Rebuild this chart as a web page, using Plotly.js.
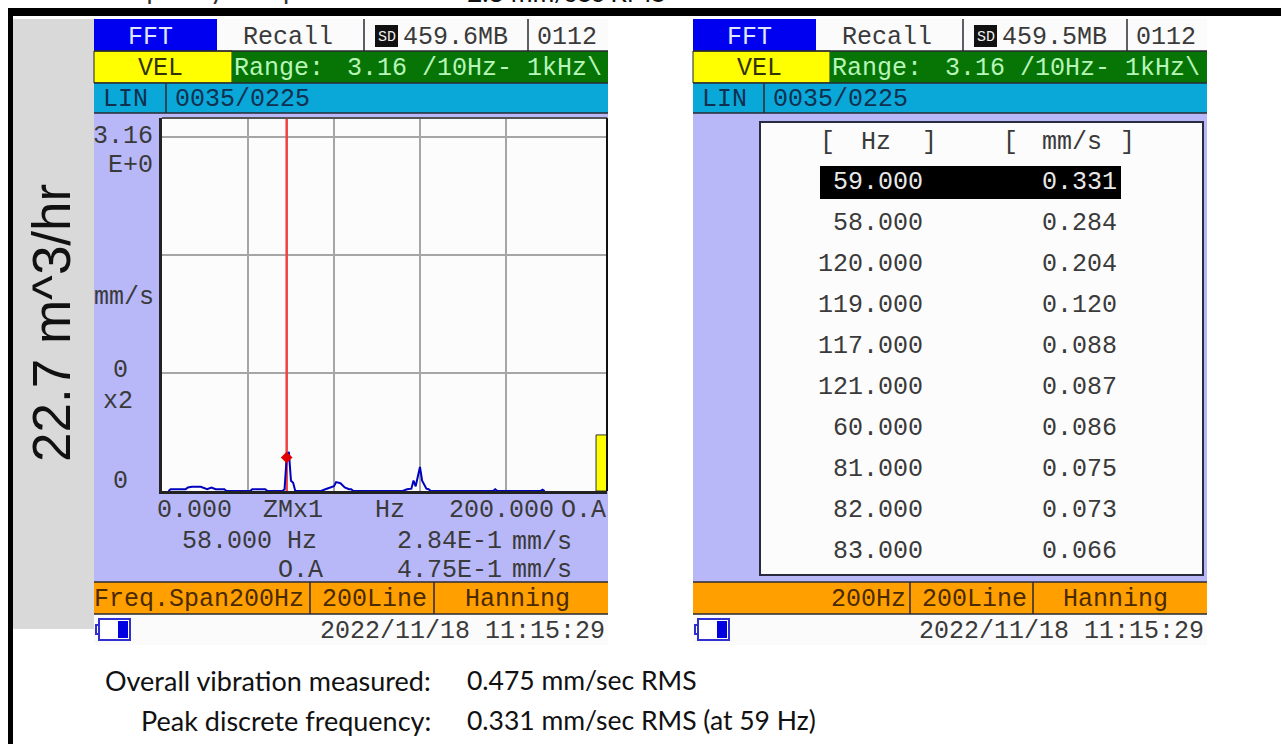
<!DOCTYPE html>
<html>
<head>
<meta charset="utf-8">
<script src="https://cdn.plot.ly/plotly-3.0.1.min.js"></script>
<style>html,body{margin:0;padding:0;background:#fff;overflow:hidden}#chart{width:1281px;height:744px}</style>
</head>
<body>
<div id="chart"></div>
<script>
// ---- data ----
const spectrumHz = [3,4,8,11,12,14,18,20,21,23,25,27,29,30,41,42,45,48,49,56,57,58,59,60,61,62,63,
  74,76,78,80,81,82,83,85,87,88,89,112,114,116,117,118,119,120,121,122,123,124,125,154,155,156,176,177,178];
const spectrumMms = [0,0.015,0.015,0.015,0.03,0.035,0.035,0.02,0.015,0.03,0.015,0.015,0.015,0,0,0.015,0.015,0.015,0,0,0.015,0.284,0.331,0.086,0.07,0,0,
  0,0.015,0.03,0.04,0.075,0.073,0.066,0.03,0.015,0.015,0,0,0.015,0.02,0.088,0.04,0.12,0.204,0.087,0.05,0.02,0.015,0,0,0.015,0,0,0.012,0];
const cursorHz = [58];
const cursorMms = [0.284];
const overallLabelHz = [204.45];
const overallMms = [0.475];
const gridHz = [40,80,120,160];
const gridMms = [1,2,3];
const tableHz = ['59.000','58.000','120.000','119.000','117.000','121.000','60.000','81.000','82.000','83.000'];
const tableMms = ['0.331','0.284','0.204','0.120','0.088','0.087','0.086','0.075','0.073','0.066'];

// ---- page helpers (pixel -> paper) ----
const W = 1281, H = 744;
const px = x => x / W, py = y => 1 - y / H;
const shapes = [], annotations = [];
function box(x0, y0, x1, y1, fill, line, lw) {
  shapes.push({type:'rect', xref:'paper', yref:'paper', layer:'below',
    x0:px(x0), x1:px(x1), y0:py(y1), y1:py(y0), fillcolor:fill,
    line:{color:line||'rgba(0,0,0,0)', width:line?(lw||1):0}});
}
function rule(x0, y0, x1, y1, color, w, layer) {
  shapes.push({type:'line', xref:'paper', yref:'paper', layer:layer||'below',
    x0:px(x0), x1:px(x1), y0:py(y0), y1:py(y1), line:{color:color, width:w}});
}
const MONO = '"Liberation Mono", monospace';
function txt(x, y, text, color, opt) {
  opt = opt || {};
  const mono = !opt.family;
  annotations.push({xref:'paper', yref:'paper',
    x:px(mono && !opt.anchor ? x - 1 : x), y:py(mono ? y + 1.5 : y), text:text, showarrow:false,
    xanchor:opt.anchor||'left', yanchor:'middle', borderpad:0, textangle:opt.angle||0,
    font:{family:opt.family||MONO, size:opt.size||25, color:color||'#3a3a3a'}});
}

// ---- slide frame ----
box(8, 8, W, 16, '#000');
box(8, 8, 13, H, '#000');
box(13, 19, 94, 629, '#d9d9d9');
txt(52, 323, '22.7 m^3/hr', '#111', {family:'"Liberation Sans", sans-serif', size:53, anchor:'center', angle:-90});

// ---- instrument screen chrome ----
function screen(o, mb, sp, seps) {
  const L = o, R = o + 514;
  box(L, 19, R, 645, '#fbfbfb');
  box(L, 19, L + 123, 51, '#0000f0');
  box(L, 51, L + sp.yel, 83, '#ffff00', '#222', 1);
  box(L + sp.yel, 51, R, 83, '#067506');
  box(L, 83, R, 113, '#0aa8d8');
  box(L, 113, R, 582, '#b8b8f8');
  box(L, 582, R, 614, '#ff9f00');
  [[L,83,R,83],[L,113,R,113],[L,582,R,582],[L,614,R,614],[L,51,R,51],
   [L+sp.lin,83,L+sp.lin,113],[L+270,19,L+270,51],[L+434,19,L+434,51],
   [L+seps[0],582,L+seps[0],614],[L+seps[1],582,L+seps[1],614]].forEach(s => rule(s[0], s[1], s[2], s[3], '#2a2a33', 1.5));
  // SD badge, battery
  box(L + 281, 25, L + 304, 47, '#111');
  txt(L + 292.5, 36, 'SD', '#eee', {size:15, anchor:'center'});
  box(L + 2, 625, L + 6, 634, '#fff', '#3030d0', 2);
  box(L + 5, 619, L + 36, 640, '#fff', '#3030d0', 2);
  box(L + 24, 621, L + 34, 638, '#0000e0');
  txt(L + 34, 36, 'FFT', '#dfe4ff');
  txt(L + 149, 36, 'Recall');
  txt(L + 309, 36, mb);
  txt(L + 443, 36, '0112');
  txt(L + 44, 67, 'VEL', '#333300');
  txt(L + sp.yel + 2, 67, 'Range:', '#b8f5b8');
  txt(L + sp.yel + 115, 67, '3.16 /10Hz- 1kHz\\', '#b8f5b8');
  txt(L + 9, 98, 'LIN', '#103050');
  txt(L + sp.lin + 9, 98, '0035/0225', '#103050');
  txt(L + 226, 630, '2022/11/18 11:15:29');
}
screen(94, '459.6MB', {yel:138, lin:72}, [216, 340]);
screen(693, '459.5MB', {yel:137, lin:71}, [217, 340]);

// left screen: plot backing and readouts
box(162, 118, 607, 491, '#fcfcfc');
rule(162, 118, 607, 118, '#555', 2, 'above');
rule(607, 118, 607, 491, '#111', 2, 'above');
txt(93, 135, '3.16'); txt(108, 164, 'E+0');
txt(94, 296, 'mm/s'); txt(113, 369, '0'); txt(103, 400, 'x2'); txt(113, 480, '0');
txt(157, 509, '0.000'); txt(263, 509, 'ZMx1'); txt(375, 509, 'Hz'); txt(449, 509, '200.000'); txt(561, 509, 'O.A');
txt(182, 540, '58.000 Hz'); txt(397, 540, '2.84E-1'); txt(512, 541, 'mm/s');
txt(278, 569, 'O.A'); txt(397, 569, '4.75E-1'); txt(512, 569, 'mm/s');
txt(94, 598, 'Freq.Span200Hz', '#4a2a00'); txt(322, 598, '200Line', '#4a2a00'); txt(465, 598, 'Hanning', '#4a2a00');

// right screen: peak table
box(760, 122, 1203, 575, '#fcfcfc', '#2a2a40', 2);
box(820, 166, 1121, 199, '#000');
txt(820, 141, '['); txt(861, 141, 'Hz'); txt(922, 141, ']');
txt(1003, 141, '['); txt(1042, 141, 'mm/s'); txt(1120, 141, ']');
tableHz.forEach((h, i) => {
  const y = 181 + i * 41, c = i === 0 ? '#e8e8e8' : '#3a3a3a';
  txt(924, y, h, c, {anchor:'right'});
  txt(1118, y, tableMms[i], c, {anchor:'right'});
});
txt(831, 598, '200Hz', '#4a2a00'); txt(922, 598, '200Line', '#4a2a00'); txt(1063, 598, 'Hanning', '#4a2a00');

// slide text
const BODY = 'Lato, "Open Sans", sans-serif';
txt(432, -11, 'Discrete frequency acceptance level:', '#333', {family:BODY, size:27, anchor:'right'});
txt(466, -8, '2.8 mm/sec RMS', '#111', {family:BODY, size:26.5});
txt(432, 680, 'Overall vibration measured:', '#111', {family:BODY, size:27, anchor:'right'});
txt(466, 680, '0.475 mm/sec RMS', '#111', {family:BODY, size:26.5});
txt(432, 720, 'Peak discrete frequency:', '#111', {family:BODY, size:27, anchor:'right'});
txt(466, 720, '0.331 mm/sec RMS (at 59 Hz)', '#111', {family:BODY, size:26.5});

// ---- traces ----
const traces = [
  {type:'bar', x:overallLabelHz, y:overallMms, width:5.1,
    marker:{color:'#ffff00', line:{color:'#333', width:1}}, hoverinfo:'skip'},
  {type:'scatter', mode:'lines', x:[cursorHz[0], cursorHz[0]], y:[0, 3.16],
    line:{color:'#f04040', width:2.5}, hoverinfo:'skip'},
  {type:'scatter', mode:'lines', x:spectrumHz, y:spectrumMms,
    line:{color:'#0000c0', width:2}, hoverinfo:'skip'},
  {type:'scatter', mode:'markers', x:cursorHz, y:cursorMms,
    marker:{symbol:'diamond', size:9, color:'#e00000'}, hoverinfo:'skip'}
];

const layout = {
  width:W, height:H, margin:{l:0, r:0, t:0, b:0, pad:0}, autosize:false, showlegend:false,
  paper_bgcolor:'#ffffff', plot_bgcolor:'rgba(0,0,0,0)',
  xaxis:{domain:[px(162), px(607)], range:[0, 207], tickmode:'array', tickvals:gridHz, showticklabels:false,
    ticks:'', showgrid:true, gridcolor:'#a6a6a6', gridwidth:2, zeroline:false,
    showline:true, linecolor:'#222', linewidth:3},
  yaxis:{domain:[py(491), py(118)], range:[0, 3.16], tickmode:'array', tickvals:gridMms, showticklabels:false,
    ticks:'', showgrid:true, gridcolor:'#a6a6a6', gridwidth:2, zeroline:false,
    showline:true, linecolor:'#222', linewidth:3},
  shapes:shapes, annotations:annotations
};
Plotly.newPlot('chart', traces, layout, {displayModeBar:false, staticPlot:true});
</script>
</body>
</html>
